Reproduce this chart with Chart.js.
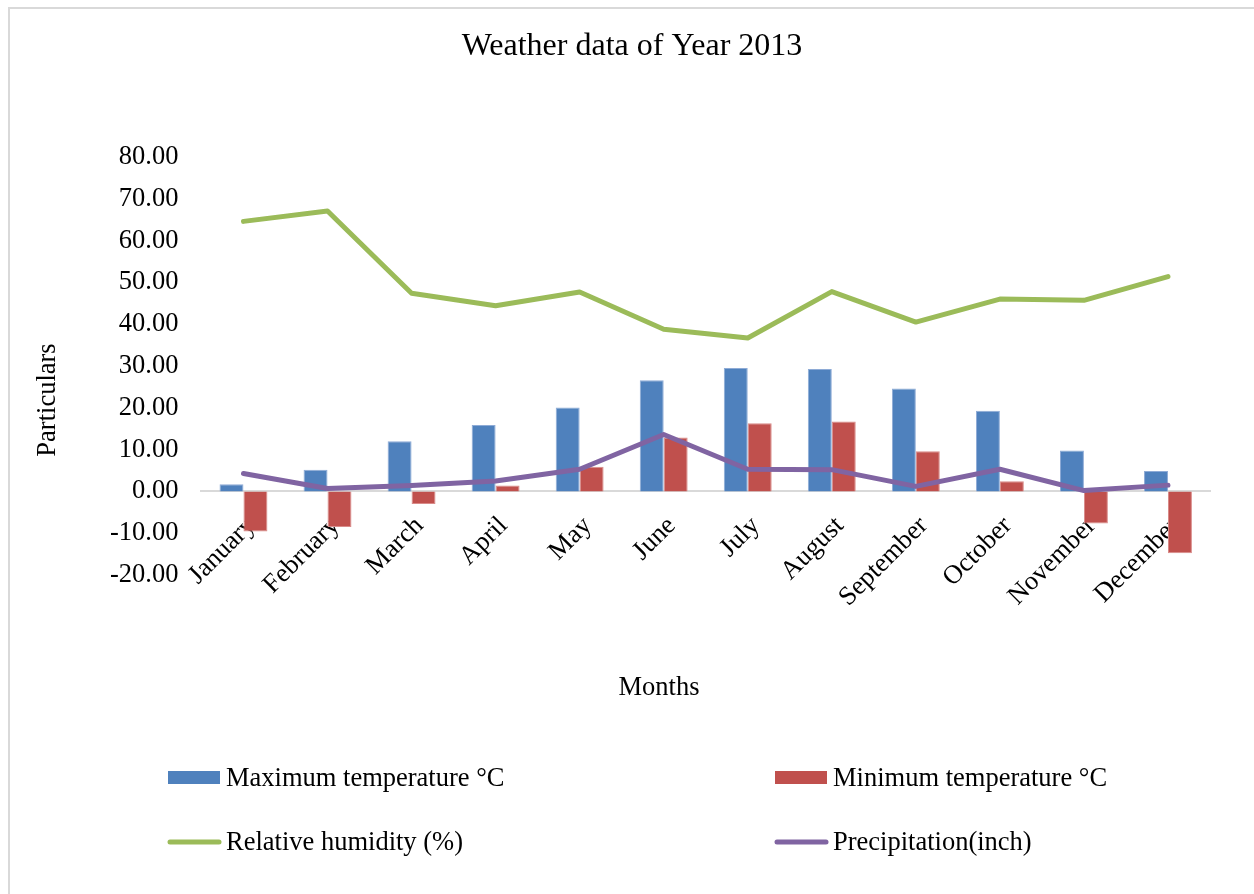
<!DOCTYPE html>
<html>
<head>
<meta charset="utf-8">
<title>Weather data of Year 2013</title>
<script src="https://cdn.jsdelivr.net/npm/chart.js@4/dist/chart.umd.min.js"></script>
<style>
  html, body { margin: 0; padding: 0; background: #fff; overflow: hidden; }
  #wrap { position: absolute; left: 0; top: 0; width: 1254px; height: 894px; }
  #frame {
    position: absolute; left: 8px; top: 7px; width: 1300px; height: 950px;
    border-left: 2px solid #d9d9d9; border-top: 2px solid #d9d9d9;
    pointer-events: none;
  }
</style>
</head>
<body>
<div id="wrap">
  <canvas id="weatherChart" width="1254" height="894"></canvas>
  <div id="frame"></div>
</div>
<script>
// monthly figures for 2013
const months = ['January', 'February', 'March', 'April', 'May', 'June',
  'July', 'August', 'September', 'October', 'November', 'December'];
const maxTemp = [1.7, 5.2, 12.0, 15.9, 20.1, 26.6, 29.5, 29.3, 24.6, 19.3, 9.8, 4.9];
const minTemp = [-9.6, -8.5, -3.0, 1.4, 5.9, 12.9, 16.3, 16.7, 9.6, 2.4, -7.7, -14.8];
const humidity = [64.6, 67.1, 47.4, 44.4, 47.7, 38.8, 36.7, 47.8, 40.5, 46.0, 45.7, 51.4];
const precipitation = [4.3, 0.7, 1.4, 2.5, 5.3, 13.6, 5.3, 5.2, 1.2, 5.3, 0.2, 1.5];

const serif = "'Liberation Serif', 'Times New Roman', serif";

// chart title and axis titles, placed like the spreadsheet original
const titles = {
  id: 'titles',
  afterDraw(chart) {
    const ctx = chart.ctx;
    ctx.save();
    ctx.fillStyle = '#000';
    ctx.textAlign = 'center';
    ctx.textBaseline = 'middle';
    ctx.font = '32px ' + serif;
    ctx.fillText('Weather data of Year 2013', 632, 47);
    ctx.font = '26.5px ' + serif;
    ctx.fillText('Months', 659, 688);
    ctx.translate(48, 400);
    ctx.rotate(-Math.PI / 2);
    ctx.fillText('Particulars', 0, 0);
    ctx.restore();
  }
};

// two-column legend under the chart
const gridLegend = {
  id: 'gridLegend',
  afterDraw(chart) {
    const ctx = chart.ctx;
    const cols = [168, 775];
    const rows = [778, 842];
    ctx.save();
    ctx.font = '26.5px ' + serif;
    ctx.textBaseline = 'middle';
    chart.data.datasets.forEach((ds, i) => {
      const x = cols[i % 2];
      const y = rows[Math.floor(i / 2)];
      if (ds.type === 'line') {
        ctx.strokeStyle = ds.borderColor;
        ctx.lineWidth = 5;
        ctx.lineCap = 'round';
        ctx.beginPath();
        ctx.moveTo(x + 2, y);
        ctx.lineTo(x + 51, y);
        ctx.stroke();
      } else {
        ctx.fillStyle = ds.backgroundColor;
        ctx.fillRect(x, y - 7, 52, 13);
      }
      ctx.fillStyle = '#000';
      ctx.fillText(ds.label, x + 58, y + 1);
    });
    ctx.restore();
  }
};

new Chart(document.getElementById('weatherChart'), {
  type: 'bar',
  data: {
    labels: months,
    datasets: [
      {
        label: 'Maximum temperature °C',
        data: maxTemp,
        backgroundColor: '#4f81bd',
        borderColor: '#8eabd6',
        borderWidth: 1,
        order: 2
      },
      {
        label: 'Minimum temperature °C',
        data: minTemp,
        backgroundColor: '#c0504d',
        borderColor: '#d98b89',
        borderWidth: 1,
        order: 2
      },
      {
        type: 'line',
        label: 'Relative humidity (%)',
        data: humidity,
        borderColor: '#9bbb59',
        backgroundColor: '#9bbb59',
        borderWidth: 5,
        borderCapStyle: 'round',
        borderJoinStyle: 'round',
        pointRadius: 0,
        tension: 0,
        order: 1
      },
      {
        type: 'line',
        label: 'Precipitation(inch)',
        data: precipitation,
        borderColor: '#8064a2',
        backgroundColor: '#8064a2',
        borderWidth: 5,
        borderCapStyle: 'round',
        borderJoinStyle: 'round',
        pointRadius: 0,
        tension: 0,
        order: 0
      }
    ]
  },
  options: {
    responsive: false,
    animation: false,
    layout: {
      padding: { left: 87, right: 44, top: 157, bottom: 319 }
    },
    datasets: {
      bar: { categoryPercentage: 0.57, barPercentage: 1 }
    },
    plugins: {
      legend: { display: false },
      tooltip: { enabled: false },
      title: { display: false }
    },
    scales: {
      x: {
        position: { y: 0 },
        z: 1,
        grid: { display: false, drawTicks: false },
        border: { display: true, color: '#d9d9d9', width: 2 },
        ticks: {
          color: '#000',
          font: { family: serif, size: 26.5 },
          minRotation: 45,
          maxRotation: 45,
          padding: 19,
          labelOffset: 8,
          autoSkip: false
        }
      },
      y: {
        min: -20,
        max: 80,
        grid: { display: false, drawTicks: false },
        border: { display: false },
        ticks: {
          stepSize: 10,
          color: '#000',
          font: { family: serif, size: 26.5 },
          padding: 23,
          callback: v => v.toFixed(2)
        }
      }
    }
  },
  plugins: [titles, gridLegend]
});
</script>
</body>
</html>
